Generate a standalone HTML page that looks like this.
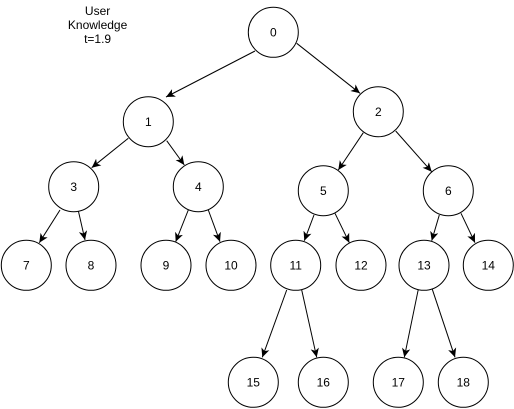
<!DOCTYPE html>
<html><head><meta charset="utf-8"><style>
html,body{margin:0;padding:0;background:#fff;}
svg{display:block;font-family:"Liberation Sans",Arial,sans-serif;}
</style></head><body>
<svg width="514" height="409" viewBox="0 0 514 409" xmlns="http://www.w3.org/2000/svg">
<defs><marker id="a" markerWidth="10" markerHeight="10" refX="9" refY="5" orient="auto" markerUnits="userSpaceOnUse">
<path d="M0,0.8 L9,5 L0,9.2 L2.4,5 Z" fill="#000"/></marker></defs>
<g font-size="12" text-anchor="middle" fill="#000">
<text x="97.6" y="15">User</text><text x="97.6" y="29">Knowledge</text><text x="97.6" y="43">t=1.9</text>
</g>
<g stroke="#000" stroke-width="1" fill="none" marker-end="url(#a)">
<line x1="255" y1="51" x2="166" y2="97"/>
<line x1="296.7" y1="43.3" x2="360" y2="93.3"/>
<line x1="128.3" y1="138.3" x2="91.7" y2="167.7"/>
<line x1="166.7" y1="140.7" x2="184.3" y2="165"/>
<line x1="363.3" y1="132.7" x2="338.3" y2="170"/>
<line x1="395.7" y1="131" x2="431.7" y2="171.7"/>
<line x1="60" y1="210" x2="39.3" y2="242.7"/>
<line x1="78.3" y1="210.7" x2="85" y2="240"/>
<line x1="188.3" y1="210" x2="175.7" y2="241.7"/>
<line x1="208.3" y1="210" x2="220" y2="241.7"/>
<line x1="314" y1="215" x2="304.3" y2="240.7"/>
<line x1="335" y1="213.3" x2="349.3" y2="242.7"/>
<line x1="439.3" y1="215" x2="431.7" y2="240.7"/>
<line x1="461" y1="213.3" x2="475" y2="242.7"/>
<line x1="286.7" y1="290" x2="262.3" y2="357.3"/>
<line x1="301.7" y1="290" x2="316.7" y2="357.3"/>
<line x1="418.3" y1="289.3" x2="404.3" y2="357.3"/>
<line x1="432.3" y1="289.3" x2="455" y2="357.3"/>
</g>
<g stroke="#000" stroke-width="1" fill="#fff">
<circle cx="273.3" cy="32.3" r="25"/>
<circle cx="148.3" cy="121.7" r="25"/>
<circle cx="378.3" cy="111.7" r="25"/>
<circle cx="73.7" cy="186.7" r="25"/>
<circle cx="198.3" cy="186.7" r="25"/>
<circle cx="323.3" cy="190.7" r="25"/>
<circle cx="448.3" cy="190.7" r="25"/>
<circle cx="26.3" cy="265.3" r="25"/>
<circle cx="91" cy="265.3" r="25"/>
<circle cx="166" cy="265.3" r="25"/>
<circle cx="231" cy="265.3" r="25"/>
<circle cx="295.7" cy="265.3" r="25"/>
<circle cx="361" cy="265.3" r="25"/>
<circle cx="424" cy="265.3" r="25"/>
<circle cx="488.3" cy="265.3" r="25"/>
<circle cx="253.3" cy="382.3" r="25"/>
<circle cx="323.3" cy="382.3" r="25"/>
<circle cx="398.3" cy="382.3" r="25"/>
<circle cx="463.3" cy="382.3" r="25"/>
</g>
<g font-size="12" text-anchor="middle" fill="#000">
<text x="273.3" y="36.5">0</text>
<text x="148.3" y="125.9">1</text>
<text x="378.3" y="115.9">2</text>
<text x="73.7" y="190.9">3</text>
<text x="198.3" y="190.9">4</text>
<text x="323.3" y="194.9">5</text>
<text x="448.3" y="194.9">6</text>
<text x="26.3" y="269.5">7</text>
<text x="91" y="269.5">8</text>
<text x="166" y="269.5">9</text>
<text x="231" y="269.5">10</text>
<text x="295.7" y="269.5">11</text>
<text x="361" y="269.5">12</text>
<text x="424" y="269.5">13</text>
<text x="488.3" y="269.5">14</text>
<text x="253.3" y="386.5">15</text>
<text x="323.3" y="386.5">16</text>
<text x="398.3" y="386.5">17</text>
<text x="463.3" y="386.5">18</text>
</g>
</svg>
</body></html>
